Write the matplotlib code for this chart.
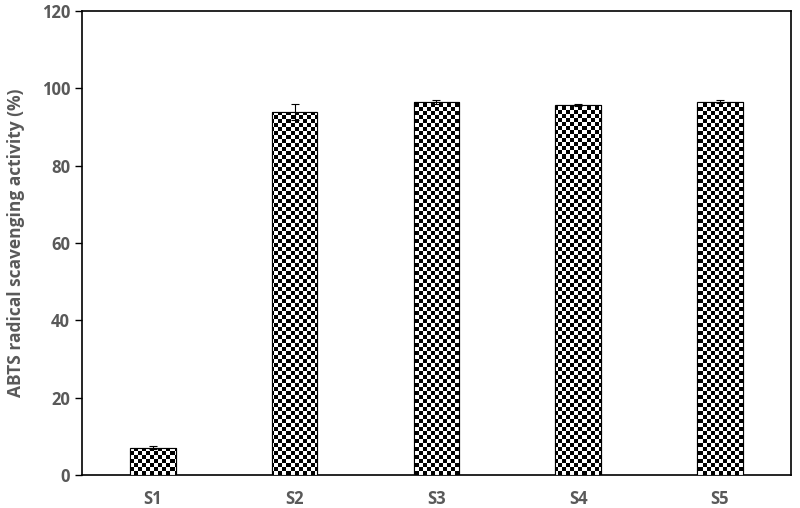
import numpy as np
import matplotlib.pyplot as plt

samples = ["S1", "S2", "S3", "S4", "S5"]
activity = [7.1, 93.9, 96.5, 95.8, 96.6]
errors = [0.3, 2.0, 0.5, 0.3, 0.3]

grey = "#595959"
plt.rcParams['font.family'] = ['Open Sans', 'DejaVu Sans']

fig = plt.figure(figsize=(8, 5.08), dpi=100)
ax = fig.add_axes([0.1025, 0.065, 0.886, 0.913])

x = np.arange(len(samples))
bars = ax.bar(x, activity, width=0.32, color="white", edgecolor="black", linewidth=0.8, zorder=2)
ax.errorbar(x, activity, yerr=errors, fmt="none", ecolor="black", elinewidth=0.8,
            capsize=3, capthick=0.8, zorder=4)

ax.set_xlim(-0.5, 4.5)
ax.set_ylim(0, 120)

# checkerboard fill clipped to each bar
ny, nx = 116, 177
ii, jj = np.indices((ny, nx))
checker = (ii + jj) % 2
for b in bars:
    im = ax.imshow(checker, cmap="gray", extent=[-0.5, 4.5, 0, 120], aspect="auto",
                   interpolation="nearest", zorder=3)
    im.set_clip_path(b)
for b in bars:
    r = plt.Rectangle(b.get_xy(), b.get_width(), b.get_height(), fill=False,
                      edgecolor="black", linewidth=0.8, zorder=3.5)
    ax.add_patch(r)

ax.set_yticks(range(0, 121, 20))
ax.set_xticks(x)
ax.set_xticklabels(samples)
ax.tick_params(axis="x", length=0, pad=11, labelsize=12, labelcolor=grey)
ax.tick_params(axis="y", direction="out", length=5, width=1, labelsize=12, labelcolor=grey)
for lab in ax.get_xticklabels() + ax.get_yticklabels():
    lab.set_fontweight("bold")
ax.set_ylabel("ABTS radical scavenging activity (%)", fontsize=12.5, fontweight="bold",
              color=grey, labelpad=12)
for s in ax.spines.values():
    s.set_linewidth(1.2)

fig.savefig("out.png", dpi=100)
